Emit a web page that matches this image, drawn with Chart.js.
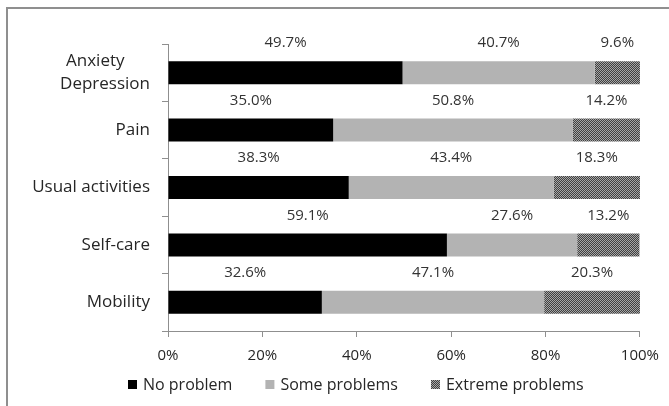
<!DOCTYPE html>
<html lang="en">
<head>
<meta charset="UTF-8">
<title>Problems reported per dimension</title>
<style>
    body {
        margin: 0;
        background: #fff;
        overflow: hidden;
        font-family: "Open Sans", sans-serif;
    }
    .frame {
        position: absolute;
        left: 6px;
        top: 7px;
        width: 700px;
        height: 430px;
        border-left: 2px solid #8f8f8f;
        border-top: 2px solid #8f8f8f;
    }
    .wrap {
        position: absolute;
        left: 0;
        top: 0;
        width: 669px;
        height: 406px;
    }
</style>
</head>
<body>
<div class="frame"></div>
<div class="wrap"><canvas id="dimChart"></canvas></div>

<script src="https://cdn.jsdelivr.net/npm/chart.js"></script>
<script>
    // top to bottom, as in the figure
    const dimensions = [['Anxiety\u2003\u2002', 'Depression'], 'Pain', 'Usual activities', 'Self-care', 'Mobility'];
    const noProblem = [49.7, 35.0, 38.3, 59.1, 32.6];
    const someProblems = [40.7, 50.8, 43.4, 27.6, 47.1];
    const extremeProblems = [9.6, 14.2, 18.3, 13.2, 20.3];
    const percentTicks = [0, 20, 40, 60, 80, 100];

    const FONT = '"Open Sans", sans-serif';
    const TEXT = '#262626';
    const AXIS = '#8f8f8f';

    // small dotted fill like the Excel pattern
    function dotPattern() {
        const c = document.createElement('canvas');
        c.width = 2;
        c.height = 2;
        const g = c.getContext('2d');
        g.fillStyle = '#404040';
        g.fillRect(0, 0, 2, 2);
        g.fillStyle = '#a6a6a6';
        g.fillRect(0, 0, 1, 1);
        g.fillRect(1, 1, 1, 1);
        return g.createPattern(c, 'repeat');
    }

    // value above each segment
    const segmentLabels = {
        id: 'segmentLabels',
        afterDatasetsDraw(chart) {
            const ctx = chart.ctx;
            ctx.save();
            ctx.font = '15px ' + FONT;
            ctx.fillStyle = '#333';
            ctx.textAlign = 'center';
            ctx.textBaseline = 'middle';
            chart.data.datasets.forEach((ds, i) => {
                chart.getDatasetMeta(i).data.forEach((bar, j) => {
                    const cx = (bar.x + bar.base) / 2;
                    ctx.fillText(ds.data[j].toFixed(1) + '%', cx, bar.y - bar.height / 2 - 18);
                });
            });
            ctx.restore();
        }
    };

    // the built-in legend ties row offset to item spacing, so draw a simple one
    const bottomLegend = {
        id: 'bottomLegend',
        afterDraw(chart, args, opts) {
            const ctx = chart.ctx;
            ctx.save();
            ctx.font = '16px ' + FONT;
            ctx.textBaseline = 'middle';
            let x = opts.x;
            chart.data.datasets.forEach(ds => {
                ctx.fillStyle = ds.backgroundColor;
                ctx.fillRect(x, opts.y - 5, 9, 9);
                ctx.fillStyle = TEXT;
                ctx.fillText(ds.label, x + 15, opts.y);
                x += 15 + ctx.measureText(ds.label).width + opts.gap;
            });
            ctx.restore();
        }
    };

    const ctx = document.getElementById('dimChart').getContext('2d');
    new Chart(ctx, {
        type: 'bar',
        data: {
            labels: dimensions,
            datasets: [
                { label: 'No problem', data: noProblem, backgroundColor: '#000000' },
                { label: 'Some problems', data: someProblems, backgroundColor: '#b3b3b3' },
                { label: 'Extreme problems', data: extremeProblems, backgroundColor: dotPattern() }
            ]
        },
        options: {
            indexAxis: 'y',
            responsive: true,
            maintainAspectRatio: false,
            animation: false,
            datasets: {
                bar: { categoryPercentage: 1, barPercentage: 0.40 }
            },
            layout: {
                padding: { top: 44, left: 10, right: 28, bottom: 35 }
            },
            scales: {
                x: {
                    stacked: true,
                    min: 0,
                    max: 100,
                    afterBuildTicks: (scale) => {
                        scale.ticks = percentTicks.map(v => ({ value: v }));
                    },
                    afterFit: (scale) => { scale.height = 40; },
                    grid: { drawOnChartArea: false, tickLength: 6, color: AXIS },
                    border: { color: AXIS },
                    ticks: {
                        padding: 10,
                        color: TEXT,
                        font: { family: FONT, size: 15 },
                        callback: (v) => v + '%'
                    }
                },
                y: {
                    stacked: true,
                    afterFit: (scale) => { scale.width = 158; },
                    grid: { drawOnChartArea: false, tickLength: 6, color: AXIS },
                    border: { color: AXIS },
                    ticks: {
                        padding: 12,
                        color: TEXT,
                        font: { family: FONT, size: 17, lineHeight: 1.35 }
                    }
                }
            },
            plugins: {
                legend: { display: false },
                tooltip: { enabled: false },
                bottomLegend: { x: 128, y: 385, gap: 33 }
            }
        },
        plugins: [segmentLabels, bottomLegend]
    });
</script>
</body>
</html>
